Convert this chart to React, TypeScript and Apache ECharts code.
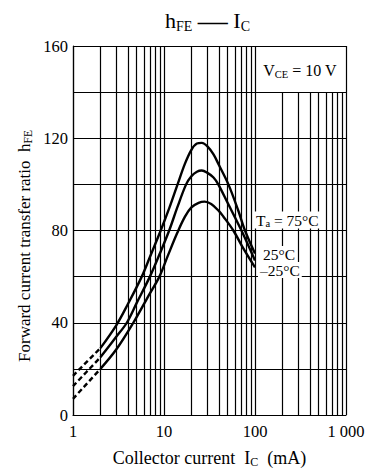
import React, { useEffect, useRef } from 'react';
import * as echarts from 'echarts';

const FONT = "'Liberation Serif', 'Times New Roman', serif";

// Solid parts of the curves (Ic in mA, hFE)
const current75 = [2, 3, 4, 5.7, 7, 9.2, 11.5, 14.1, 17, 20, 23, 26, 30, 35, 40, 51, 65, 77.6, 100];
const hfe75 = [29, 39, 48, 60, 68.5, 80, 90, 100, 109, 115, 117.7, 118, 116.5, 113, 108.5, 100, 89, 80, 70];

const current25 = [2, 3, 3.9, 5, 7, 9, 11.4, 14, 17.5, 20, 23, 26, 30, 35, 39.5, 50, 71, 100];
const hfe25 = [25, 34, 40, 48.5, 60, 70, 80, 90, 100, 103.5, 105.5, 106, 105, 103, 100, 92, 80, 67];

const currentM25 = [2, 3, 4.6, 6.5, 8.9, 11, 14, 17, 20, 24, 28, 33, 40, 45, 57.8, 75, 100];
const hfeM25 = [20, 28.5, 40, 50.5, 60, 69, 79, 86, 90, 92, 92.5, 91.5, 88.5, 86, 80, 72, 64];

// Dashed (extrapolated) parts
const dashCurrent = [1, 2];
const dash75 = [17, 29];
const dash25 = [12.5, 25];
const dashM25 = [7, 20];

// Grid
const yLabelValues = [0, 40, 80, 120, 160];
const xTickLabels: Record<number, string> = { 1: '1', 10: '10', 100: '100', 1000: '1 000' };
const minorFull = [2, 3, 4, 5, 6, 7, 8, 9, 20, 30, 40, 50, 60, 70, 80, 90];
const minorUpper = [200, 300, 400, 500, 600, 700, 800, 900];
const upperTop = 140;
const fullTop = 160;

const pair = (xs: number[], ys: number[]) => xs.map((x, i) => [x, ys[i]]);

export default function App() {
  const ref = useRef<HTMLDivElement>(null);
  useEffect(() => {
    const chart = echarts.init(ref.current!, null, { renderer: 'svg' });
    const solid = { color: '#000', width: 2.4 };
    const dashed = { color: '#000', width: 2.4, type: [5, 3] as any };
    const curve = (name: string, data: number[][], ls: any) => ({
      name,
      type: 'line',
      data,
      smooth: 0.35,
      symbol: 'none',
      lineStyle: ls,
      z: 5,
      silent: true,
    });
    const vLines = [
      ...minorFull.map((x) => [{ coord: [x, 0] }, { coord: [x, fullTop] }]),
      ...minorUpper.map((x) => [{ coord: [x, 0] }, { coord: [x, upperTop] }]),
    ];
    const sub = (size: number, lh: number) => ({
      fontSize: size,
      fontFamily: FONT,
      fontWeight: 'normal',
      color: '#000',
      verticalAlign: 'bottom',
      lineHeight: lh,
    });
    const main = (size: number, lh: number) => ({
      fontSize: size,
      fontFamily: FONT,
      fontWeight: 'normal',
      color: '#000',
      lineHeight: lh,
    });
    const option: any = {
      animation: false,
      backgroundColor: '#fff',
      textStyle: { fontFamily: FONT },
      title: {
        text: '{m|h}{s|FE}{m| }{d|\u2014}{m| I}{s|C}',
        left: 165,
        top: 7,
        padding: 0,
        textStyle: {
          fontWeight: 'normal',
          fontFamily: FONT,
          rich: { m: main(22, 26), s: sub(14, 14), d: main(30, 26) },
        },
      },
      grid: { left: 73, right: 19, top: 46, bottom: 53, containLabel: false, outerBoundsMode: 'none' },
      xAxis: {
        type: 'log',
        logBase: 10,
        min: 1,
        max: 1000,
        name: '{m|Collector current  I}{s|C}{m|  (mA)}',
        nameLocation: 'middle',
        nameGap: 32,
        nameTextStyle: { fontFamily: FONT, rich: { m: main(18, 21), s: sub(12, 11) } },
        axisLine: { show: true, lineStyle: { color: '#000', width: 1.2 } },
        axisTick: { show: false },
        splitLine: { show: true, lineStyle: { color: '#000', width: 1.2 } },
        axisLabel: {
          margin: 8,
          fontFamily: FONT,
          fontSize: 16.5,
          color: '#000',
          formatter: (v: number) => xTickLabels[Math.round(v)] ?? '',
        },
      },
      yAxis: {
        type: 'value',
        min: 0,
        max: 160,
        interval: 20,
        axisLine: { show: true, lineStyle: { color: '#000', width: 1.2 } },
        axisTick: { show: false },
        splitLine: { show: true, lineStyle: { color: '#000', width: 1.2 } },
        axisLabel: {
          margin: 5,
          fontFamily: FONT,
          fontSize: 16.5,
          color: '#000',
          formatter: (v: number) => (yLabelValues.includes(v) ? String(v) : ''),
        },
      },
      series: [
        {
          name: 'grid',
          type: 'line',
          data: [],
          z: 1,
          silent: true,
          markLine: {
            silent: true,
            symbol: ['none', 'none'],
            label: { show: false },
            lineStyle: { color: '#000', width: 1.2, type: 'solid' },
            data: vLines,
          },
        },
        curve('75', pair(current75, hfe75), solid),
        curve('25', pair(current25, hfe25), solid),
        curve('-25', pair(currentM25, hfeM25), solid),
        curve('75d', pair(dashCurrent, dash75), dashed),
        curve('25d', pair(dashCurrent, dash25), dashed),
        curve('-25d', pair(dashCurrent, dashM25), dashed),
      ],
      graphic: [
        {
          type: 'text',
          x: 24,
          y: 246,
          rotation: Math.PI / 2,
          style: {
            text: '{m|Forward current transfer ratio  h}{s|FE}',
            align: 'center',
            verticalAlign: 'middle',
            rich: { m: main(17, 20), s: sub(11.5, 10) },
          },
        },
        {
          type: 'text',
          x: 300,
          y: 70,
          z: 10,
          style: {
            text: '{m|V}{s|CE}{m| = 10 V}',
            align: 'center',
            verticalAlign: 'middle',
            rich: { m: main(16, 19), s: sub(10.5, 10) },
          },
        },
        {
          type: 'text',
          x: 254,
          y: 220,
          z: 10,
          style: {
            text: '{m|T}{s|a}{m| = 75\u00b0C}',
            align: 'left',
            verticalAlign: 'middle',
            backgroundColor: '#fff',
            padding: [0, 2],
            rich: { m: main(15.5, 17), s: sub(10.5, 10) },
          },
        },
        {
          type: 'text',
          x: 261,
          y: 254,
          z: 10,
          style: {
            text: '25\u00b0C',
            align: 'left',
            verticalAlign: 'middle',
            font: '15.5px ' + FONT,
            fill: '#000',
            backgroundColor: '#fff',
            padding: [0, 2],
          },
        },
        {
          type: 'text',
          x: 258,
          y: 270,
          z: 10,
          style: {
            text: '\u201325\u00b0C',
            align: 'left',
            verticalAlign: 'middle',
            font: '15.5px ' + FONT,
            fill: '#000',
            backgroundColor: '#fff',
            padding: [0, 2],
          },
        },
      ],
    };
    chart.setOption(option);
    return () => chart.dispose();
  }, []);
  return <div ref={ref} style={{ position: 'absolute', left: 0, top: 0, width: 365, height: 468 }} />;
}
